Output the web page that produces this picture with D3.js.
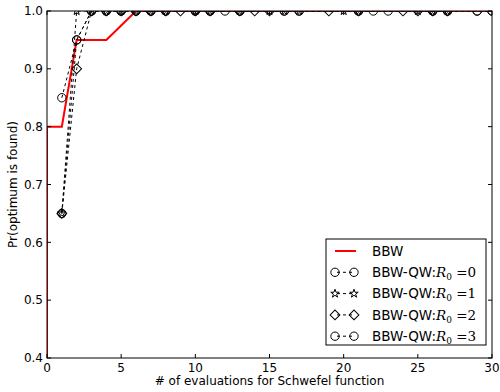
<!DOCTYPE html>
<html>
<head>
<meta charset="utf-8">
<script src="https://cdn.jsdelivr.net/npm/d3@7"></script>
<style>
  body { margin: 0; background: #fff; }
  text { font-family: "DejaVu Sans", sans-serif; }
</style>
</head>
<body>
<div id="chart"></div>
<script>
// BBW curve
const bbwX = [0, 0, 1, 2, 3, 4, 5, 6, 7, 8, 9, 10, 11, 12, 13, 14, 15, 16, 17, 18, 19, 20, 21, 22, 23, 24, 25, 26, 27, 28, 29, 30];
const bbwY = [0, 0.8, 0.8, 0.95, 0.95, 0.95, 0.975, 1, 1, 1, 1, 1, 1, 1, 1, 1, 1, 1, 1, 1, 1, 1, 1, 1, 1, 1, 1, 1, 1, 1, 1, 1];

// BBW-QW runs, R0 = 0..3
const qw0X = [1, 2, 3, 4, 5, 6, 7, 8, 10, 11, 12, 13, 16, 17, 21, 22, 26, 27, 29, 30];
const qw0Y = [0.85, 0.95, 1, 1, 1, 1, 1, 1, 1, 1, 1, 1, 1, 1, 1, 1, 1, 1, 1, 1];
const qw1X = [1, 2, 3, 4, 5, 6, 7, 8, 10, 11, 13, 15, 16, 17, 20, 21, 25, 26, 27];
const qw1Y = [0.65, 1, 1, 1, 1, 1, 1, 1, 1, 1, 1, 1, 1, 1, 1, 1, 1, 1, 1];
const qw2X = [1, 2, 3, 4, 5, 6, 7, 8, 9, 10, 11, 13, 14, 15, 19, 21, 24, 25, 26, 27];
const qw2Y = [0.65, 0.9, 1, 1, 1, 1, 1, 1, 1, 1, 1, 1, 1, 1, 1, 1, 1, 1, 1, 1];
const qw3X = [1, 2, 3, 4, 5, 6, 7, 8, 10, 11, 13, 16, 17, 21, 23, 26, 27, 29, 30];
const qw3Y = [0.65, 0.95, 1, 1, 1, 1, 1, 1, 1, 1, 1, 1, 1, 1, 1, 1, 1, 1, 1];

const xTicks = [0, 5, 10, 15, 20, 25, 30];
const yTicks = [0.4, 0.5, 0.6, 0.7, 0.8, 0.9, 1.0];
const rLabels = ["0", "1", "2", "3"];

const width = 500, height = 392;
const margin = {left: 47, right: 8, top: 11, bottom: 34};
const w = width - margin.left - margin.right;
const h = height - margin.top - margin.bottom;

const svg = d3.select("#chart").append("svg")
  .attr("width", width).attr("height", height);

svg.append("defs").append("clipPath").attr("id", "clip")
  .append("rect").attr("width", w).attr("height", h);

const g = svg.append("g").attr("transform", `translate(${margin.left},${margin.top})`);

const x = d3.scaleLinear().domain([0, 30]).range([0, w]);
const y = d3.scaleLinear().domain([0.4, 1.0]).range([h, 0]);

const plot = g.append("g").attr("clip-path", "url(#clip)");

const line = d3.line().x(d => x(d[0])).y(d => y(d[1]));

const zip = (a, b) => a.map((v, i) => [v, b[i]]);

// marker shapes
const markers = {
  circle: d3.symbol().type(d3.symbolCircle).size(55),
  star: d3.symbol().type(d3.symbolStar).size(22),
  diamond: d3.symbol().type(d3.symbolSquare).size(48)
};
function drawMarker(sel, kind, px, py) {
  sel.append("path")
    .attr("d", markers[kind]())
    .attr("transform", `translate(${px},${py})` + (kind === "diamond" ? " rotate(45)" : ""))
    .attr("fill", "none").attr("stroke", "#000").attr("stroke-width", 1);
}

const qwSeries = [
  {xs: qw0X, ys: qw0Y, marker: "circle"},
  {xs: qw1X, ys: qw1Y, marker: "star"},
  {xs: qw2X, ys: qw2Y, marker: "diamond"},
  {xs: qw3X, ys: qw3Y, marker: "circle"}
];

// BBW red line
plot.append("path")
  .attr("d", line(zip(bbwX, bbwY)))
  .attr("fill", "none").attr("stroke", "red").attr("stroke-width", 2);

qwSeries.forEach(s => {
  const pts = zip(s.xs, s.ys);
  plot.append("path")
    .attr("d", line(pts))
    .attr("fill", "none").attr("stroke", "#000").attr("stroke-width", 1)
    .attr("stroke-dasharray", "3,3");
  pts.forEach(p => drawMarker(plot, s.marker, x(p[0]), y(p[1])));
});

// frame
g.append("rect").attr("width", w).attr("height", h)
  .attr("fill", "none").attr("stroke", "#000").attr("stroke-width", 1);

// ticks (inward, all four sides)
const tl = 4;
xTicks.forEach(t => {
  g.append("line").attr("x1", x(t)).attr("x2", x(t)).attr("y1", h).attr("y2", h - tl).attr("stroke", "#000");
  g.append("line").attr("x1", x(t)).attr("x2", x(t)).attr("y1", 0).attr("y2", tl).attr("stroke", "#000");
  g.append("text").attr("x", x(t)).attr("y", h + 14).attr("text-anchor", "middle")
    .attr("font-size", 12).text(t);
});
yTicks.forEach(t => {
  g.append("line").attr("x1", 0).attr("x2", tl).attr("y1", y(t)).attr("y2", y(t)).attr("stroke", "#000");
  g.append("line").attr("x1", w).attr("x2", w - tl).attr("y1", y(t)).attr("y2", y(t)).attr("stroke", "#000");
  g.append("text").attr("x", -4).attr("y", y(t)).attr("dy", "0.35em").attr("text-anchor", "end")
    .attr("font-size", 12).text(d3.format(".1f")(t));
});

// axis labels
svg.append("text").attr("x", margin.left + w / 2).attr("y", 385).attr("text-anchor", "middle")
  .attr("font-size", 12).text("# of evaluations for Schwefel function");
svg.append("text").attr("transform", `translate(17,${margin.top + h / 2}) rotate(-90)`)
  .attr("text-anchor", "middle").attr("font-size", 12).text("Pr(optimum is found)");

// legend
const lg = svg.append("g").attr("transform", "translate(326,239)");
lg.append("rect").attr("width", 160).attr("height", 106)
  .attr("fill", "#fff").attr("stroke", "#000").attr("stroke-width", 1);
const rowY = i => 12 + i * 21.3;
lg.append("line").attr("x1", 9).attr("x2", 30).attr("y1", rowY(0)).attr("y2", rowY(0))
  .attr("stroke", "red").attr("stroke-width", 2);
lg.append("text").attr("x", 46).attr("y", rowY(0)).attr("dy", "0.35em").attr("font-size", 13.5).text("BBW");
qwSeries.forEach((s, i) => {
  const yy = rowY(i + 1);
  lg.append("line").attr("x1", 9).attr("x2", 28).attr("y1", yy).attr("y2", yy)
    .attr("stroke", "#000").attr("stroke-dasharray", "3,3").attr("stroke-dashoffset", -2);
  drawMarker(lg, s.marker, 9, yy);
  drawMarker(lg, s.marker, 28, yy);
  const t = lg.append("text").attr("x", 46).attr("y", yy).attr("dy", "0.35em").attr("font-size", 13.5);
  t.append("tspan").text("BBW-QW:");
  t.append("tspan").attr("font-family", "DejaVu Serif").attr("font-style", "italic").text("R");
  t.append("tspan").attr("font-family", "DejaVu Serif").attr("font-size", 9).attr("dy", "3").text("0");
  t.append("tspan").attr("font-family", "DejaVu Serif").attr("dy", "-3").text(" =" + rLabels[i]);
});
</script>
</body>
</html>
